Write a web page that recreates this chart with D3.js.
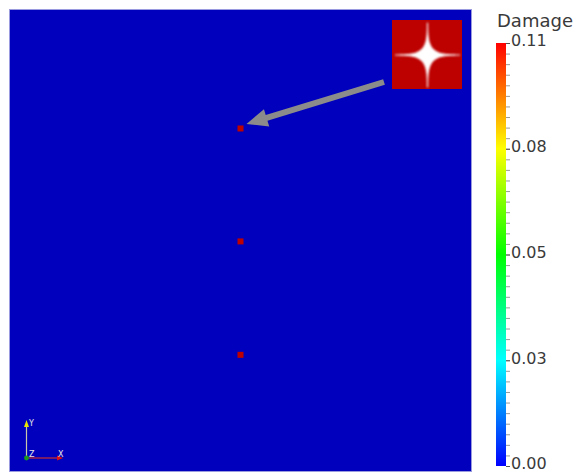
<!DOCTYPE html>
<html>
<head>
<meta charset="utf-8">
<script src="https://cdn.jsdelivr.net/npm/d3@7"></script>
<style>
  html, body { margin: 0; background: #fff; }
  svg { display: block; }
  text { font-family: "DejaVu Sans", "Liberation Sans", sans-serif; }
</style>
</head>
<body>
<svg id="chart" width="585" height="473"></svg>
<script>
// Damage samples: position in the unit domain (x right, y up) and damage value
const pointX = [0.5, 0.5, 0.5];
const pointY = [0.743, 0.498, 0.252];
const pointDamage = [0.11, 0.11, 0.11];
// Undamaged material everywhere else
const backgroundDamage = 0.0;

// Colour legend
const legendTitle = "Damage";
const damageRange = [0, 0.11];
const tickValues = [0, 0.0275, 0.055, 0.0825, 0.11];
const tickLabels = ["0.00", "0.03", "0.05", "0.08", "0.11"];
const minorSteps = 40;

const svg = d3.select("#chart");

const view = { left: 10, top: 10, size: 461 };
const x = d3.scaleLinear([0, 1], [view.left, view.left + view.size]);
const y = d3.scaleLinear([0, 1], [view.top + view.size, view.top]);

// blue -> cyan -> green -> yellow -> red
const color = d3.scaleSequential(d3.interpolateHslLong("blue", "red")).domain(damageRange);
const lightK = 0.74;
const shade = v => {
  const c = d3.rgb(color(v));
  return d3.rgb(c.r * lightK, c.g * lightK, c.b * lightK).formatHex();
};

const defs = svg.append("defs");
const soft = defs.append("filter").attr("id", "soft")
  .attr("x", "-20%").attr("y", "-20%").attr("width", "140%").attr("height", "140%");
soft.append("feGaussianBlur").attr("stdDeviation", 0.5);
const glow = defs.append("filter").attr("id", "glow")
  .attr("x", "-50%").attr("y", "-50%").attr("width", "200%").attr("height", "200%");
glow.append("feGaussianBlur").attr("stdDeviation", 0.8);

// Render view: the damage field
svg.append("rect")
  .attr("x", x(0) - 0.5).attr("y", y(1) - 0.5)
  .attr("width", x(1) - x(0) + 1).attr("height", y(0) - y(1) + 1)
  .attr("fill", "none").attr("stroke", "#9a9ade").attr("stroke-width", 1);
svg.append("rect")
  .attr("x", x(0)).attr("y", y(1))
  .attr("width", x(1) - x(0)).attr("height", y(0) - y(1))
  .attr("fill", shade(backgroundDamage));

const pts = pointX.map((px, i) => ({ x: px, y: pointY[i], v: pointDamage[i] }));
const cell = 6;
svg.append("g").selectAll("rect").data(pts).join("rect")
  .attr("x", d => x(d.x) - cell / 2)
  .attr("y", d => y(d.y) - cell / 2)
  .attr("width", cell).attr("height", cell)
  .attr("fill", d => shade(d.v))
  .attr("filter", "url(#soft)");

// Inset: close-up of a damaged cell with a four-point crack sparkle
const inset = { x: 392, y: 20, w: 70, h: 69 };
svg.append("rect")
  .attr("x", inset.x).attr("y", inset.y)
  .attr("width", inset.w).attr("height", inset.h)
  .attr("fill", shade(pointDamage[0]));
const cx = inset.x + inset.w / 2 + 0.5, cy = inset.y + inset.h / 2 + 0.5;
const L = 32, p = 0.4;
// superellipse |x|^p + |y|^p = L^p gives thin concave arms
const starPts = d3.range(0, 360, 1).map(deg => {
  const th = deg * Math.PI / 180;
  const c = Math.cos(th), s = Math.sin(th);
  return [
    cx + L * Math.sign(c) * Math.pow(Math.abs(c), 2 / p),
    cy + L * Math.sign(s) * Math.pow(Math.abs(s), 2 / p)
  ];
});
const sparkle = svg.append("g").attr("filter", "url(#glow)");
sparkle.append("path").attr("d", d3.line()(starPts) + "Z").attr("fill", "#ffffff")
  .attr("stroke", "#ffffff").attr("stroke-width", 1.2).attr("stroke-linejoin", "round");
sparkle.append("circle").attr("cx", cx).attr("cy", cy).attr("r", 2.5).attr("fill", "#ffffff");

// Arrow from the inset to the top damaged cell
const tip = [x(pts[0].x) + 6, y(pts[0].y) - 4.5];
const tail = [384, 82];
const dx = tail[0] - tip[0], dy = tail[1] - tip[1];
const len = Math.hypot(dx, dy);
const ux = dx / len, uy = dy / len;     // towards tail
const nx = -uy, ny = ux;                // normal
const headLen = 21, headHalf = 9, shaftHalf = 3;
const bx = tip[0] + ux * headLen, by = tip[1] + uy * headLen;
const arrow = [
  tip,
  [bx + nx * headHalf, by + ny * headHalf],
  [bx + nx * shaftHalf, by + ny * shaftHalf],
  [tail[0] + nx * shaftHalf, tail[1] + ny * shaftHalf],
  [tail[0] - nx * shaftHalf, tail[1] - ny * shaftHalf],
  [bx - nx * shaftHalf, by - ny * shaftHalf],
  [bx - nx * headHalf, by - ny * headHalf]
];
svg.append("path")
  .attr("d", d3.line()(arrow) + "Z")
  .attr("fill", "#8b8b8b")
  .attr("filter", "url(#soft)");

// Orientation triad
const tri = svg.append("g");
const ox = 26.5, oy = 458;
tri.append("line").attr("x1", ox).attr("y1", oy).attr("x2", ox).attr("y2", 427)
  .attr("stroke", "#c8c8a8").attr("stroke-width", 1.2);
tri.append("path").attr("d", `M${ox - 2.5},427 L${ox},420 L${ox + 2.5},427 Z`).attr("fill", "#e6e600");
tri.append("line").attr("x1", ox).attr("y1", oy).attr("x2", 57).attr("y2", oy)
  .attr("stroke", "#c83030").attr("stroke-width", 1.2);
tri.append("path").attr("d", `M57,${oy - 2.5} L63,${oy} L57,${oy + 2.5} Z`).attr("fill", "#e01010");
tri.append("circle").attr("cx", ox).attr("cy", oy).attr("r", 2.4).attr("fill", "#1a9a1a");
tri.selectAll("text").data([["Y", 29, 426], ["Z", 29, 457], ["X", 58, 457]]).join("text")
  .attr("x", d => d[1]).attr("y", d => d[2])
  .attr("font-size", 8).attr("fill", "#e8e8e8")
  .text(d => d[0]);

// Colour bar
const bar = { x: 496, w: 10, top: 43, bottom: 466 };
const yBar = d3.scaleLinear(damageRange, [bar.bottom, bar.top]);
const grad = defs.append("linearGradient").attr("id", "damageGrad")
  .attr("x1", 0).attr("y1", 1).attr("x2", 0).attr("y2", 0);
d3.range(0, 1.0001, 1 / 24).forEach(t => {
  const v = damageRange[0] + t * (damageRange[1] - damageRange[0]);
  grad.append("stop").attr("offset", t).attr("stop-color", color(v));
});
svg.append("rect")
  .attr("x", bar.x).attr("y", bar.top)
  .attr("width", bar.w).attr("height", bar.bottom - bar.top)
  .attr("fill", "url(#damageGrad)");

const minorTicks = d3.range(minorSteps + 1).map(i => damageRange[0] + i * (damageRange[1] - damageRange[0]) / minorSteps);
const minorAxis = svg.append("g")
  .attr("transform", `translate(${bar.x + bar.w},0)`)
  .call(d3.axisRight(yBar).tickValues(minorTicks).tickSize(4).tickFormat(""));
minorAxis.select(".domain").remove();
minorAxis.selectAll(".tick line").attr("stroke", "#9a9a9a");

const majorAxis = svg.append("g")
  .attr("transform", `translate(${bar.x + bar.w},0)`)
  .call(d3.axisRight(yBar).tickValues(tickValues).tickSize(4).tickPadding(1)
    .tickFormat((d, i) => tickLabels[i]));
majorAxis.select(".domain").remove();
majorAxis.selectAll(".tick line").attr("stroke", "#555");
majorAxis.selectAll(".tick text")
  .attr("font-family", "DejaVu Sans, sans-serif")
  .attr("font-size", 16).attr("fill", "#3a3a3a")
  .attr("dy", "0.18em");

svg.append("text")
  .attr("x", 497).attr("y", 27)
  .attr("font-size", 18).attr("fill", "#3a3a3a")
  .text(legendTitle);
</script>
</body>
</html>
